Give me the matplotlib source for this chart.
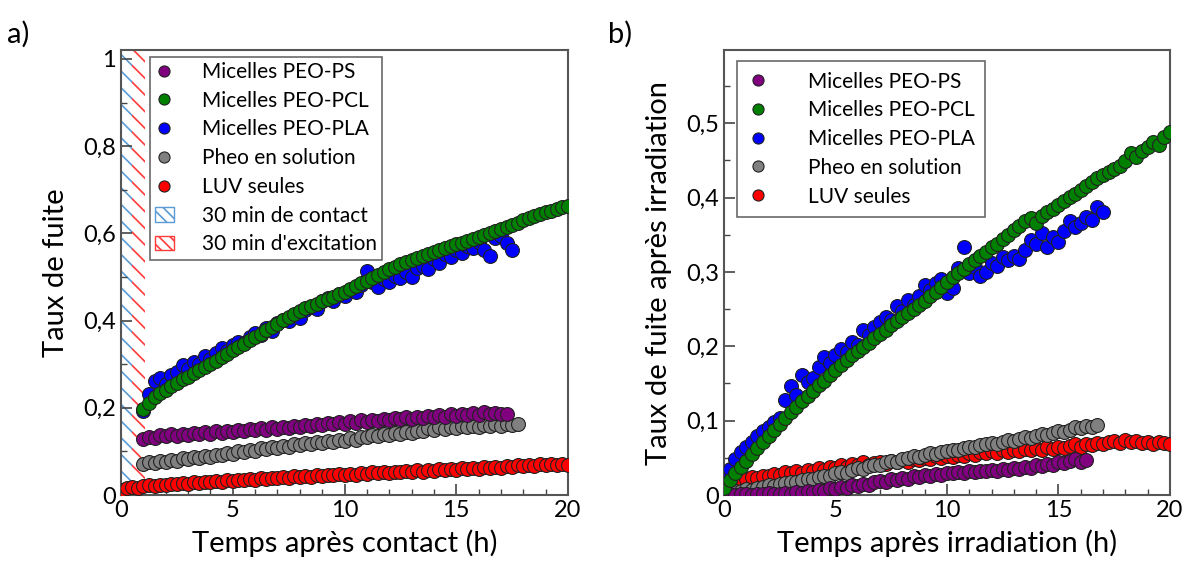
import numpy as np
import matplotlib
matplotlib.use('AGG')
import matplotlib.pyplot as plt
from matplotlib.ticker import MultipleLocator, FuncFormatter
from matplotlib.lines import Line2D
from matplotlib.patches import Patch

plt.rcParams['font.family'] = ['Lato', 'DejaVu Sans']
plt.rcParams['hatch.linewidth'] = 1.2

labels = ["Micelles PEO-PS", "Micelles PEO-PCL", "Micelles PEO-PLA",
          "Pheo en solution", "LUV seules"]
colors = ["#800080", "#008000", "#0000ff", "#808080", "#ff0000"]

# ---- panel a : temps apres contact (h), pas de 0.25 h ----
t_a_ps = np.arange(1.0, 17.26, 0.25)
a_ps = [0.128, 0.134, 0.131, 0.137, 0.135, 0.139, 0.136, 0.141, 0.138, 0.142,
        0.139, 0.144, 0.141, 0.146, 0.143, 0.148, 0.145, 0.150, 0.147, 0.151,
        0.149, 0.153, 0.150, 0.155, 0.152, 0.157, 0.154, 0.158, 0.156, 0.161,
        0.158, 0.163, 0.160, 0.165, 0.162, 0.167, 0.164, 0.169, 0.166, 0.171,
        0.168, 0.173, 0.170, 0.175, 0.172, 0.176, 0.174, 0.178, 0.175, 0.180,
        0.177, 0.182, 0.178, 0.184, 0.180, 0.185, 0.182, 0.187, 0.183, 0.188,
        0.184, 0.191, 0.186, 0.189, 0.185, 0.187]

t_a_pcl = np.arange(1.0, 20.01, 0.25)
a_pcl = [0.198, 0.212, 0.224, 0.233, 0.241, 0.250, 0.257, 0.265, 0.271, 0.279,
         0.286, 0.293, 0.301, 0.308, 0.316, 0.324, 0.332, 0.339, 0.347, 0.355,
         0.362, 0.370, 0.378, 0.386, 0.393, 0.401, 0.408, 0.416, 0.423, 0.428,
         0.433, 0.438, 0.444, 0.449, 0.454, 0.460, 0.466, 0.473, 0.479, 0.486,
         0.492, 0.498, 0.505, 0.511, 0.518, 0.524, 0.530, 0.534, 0.539, 0.544,
         0.548, 0.553, 0.557, 0.562, 0.566, 0.571, 0.575, 0.579, 0.583, 0.588,
         0.592, 0.597, 0.601, 0.606, 0.610, 0.615, 0.620, 0.625, 0.630, 0.635,
         0.640, 0.644, 0.648, 0.652, 0.657, 0.660, 0.663]

t_a_pla = np.arange(1.0, 17.51, 0.25)
a_pla = [0.192, 0.232, 0.262, 0.268, 0.255, 0.276, 0.283, 0.298, 0.288, 0.305,
         0.301, 0.318, 0.312, 0.325, 0.338, 0.331, 0.345, 0.352, 0.348, 0.362,
         0.371, 0.366, 0.382, 0.377, 0.395, 0.402, 0.398, 0.412, 0.406, 0.425,
         0.431, 0.427, 0.445, 0.452, 0.446, 0.461, 0.457, 0.470, 0.466, 0.481,
         0.513, 0.489, 0.476, 0.495, 0.488, 0.503, 0.497, 0.512, 0.501, 0.520,
         0.525, 0.518, 0.541, 0.533, 0.552, 0.545, 0.561, 0.556, 0.572, 0.566,
         0.581, 0.562, 0.549, 0.590, 0.595, 0.578, 0.563]

t_a_pheo = np.arange(1.0, 17.76, 0.25)
a_pheo = [0.072, 0.075, 0.073, 0.078, 0.076, 0.081, 0.079, 0.084, 0.082, 0.087,
          0.085, 0.090, 0.088, 0.093, 0.091, 0.097, 0.095, 0.100, 0.098, 0.104,
          0.102, 0.107, 0.105, 0.110, 0.108, 0.113, 0.111, 0.116, 0.114, 0.119,
          0.117, 0.122, 0.120, 0.125, 0.122, 0.127, 0.125, 0.130, 0.127, 0.132,
          0.133, 0.138, 0.136, 0.141, 0.138, 0.143, 0.140, 0.145, 0.142, 0.147,
          0.147, 0.153, 0.150, 0.155, 0.152, 0.157, 0.154, 0.158, 0.155, 0.159,
          0.156, 0.161, 0.158, 0.162, 0.159, 0.164, 0.160, 0.163]

t_a_luv = np.arange(0.0, 20.01, 0.25)
a_luv = [0.012, 0.016, 0.018, 0.017, 0.020, 0.022, 0.021, 0.024, 0.023, 0.026,
         0.025, 0.028, 0.026, 0.029, 0.028, 0.031, 0.029, 0.032, 0.031, 0.034,
         0.032, 0.035, 0.034, 0.037, 0.035, 0.038, 0.037, 0.040, 0.038, 0.041,
         0.040, 0.043, 0.041, 0.044, 0.042, 0.045, 0.044, 0.047, 0.045, 0.048,
         0.046, 0.049, 0.047, 0.050, 0.049, 0.052, 0.050, 0.053, 0.051, 0.054,
         0.052, 0.055, 0.053, 0.057, 0.054, 0.058, 0.056, 0.059, 0.057, 0.060,
         0.058, 0.061, 0.059, 0.063, 0.060, 0.064, 0.062, 0.065, 0.063, 0.067,
         0.064, 0.068, 0.066, 0.070, 0.067, 0.071, 0.068, 0.072, 0.069, 0.071,
         0.069]

# ---- panel b : temps apres irradiation (h) ----
t_b_ps = np.arange(0.0, 16.26, 0.25)
b_ps = [0.000, 0.001, 0.000, 0.002, 0.001, 0.000, 0.002, 0.001, 0.003, 0.002,
        0.001, 0.003, 0.002, 0.004, 0.003, 0.005, 0.004, 0.007, 0.006, 0.009,
        0.008, 0.011, 0.010, 0.013, 0.012, 0.015, 0.014, 0.017, 0.019, 0.018,
        0.021, 0.020, 0.023, 0.022, 0.025, 0.024, 0.027, 0.026, 0.028, 0.027,
        0.030, 0.029, 0.031, 0.030, 0.032, 0.031, 0.033, 0.032, 0.034, 0.033,
        0.035, 0.034, 0.036, 0.035, 0.038, 0.037, 0.040, 0.039, 0.042, 0.041,
        0.044, 0.043, 0.046, 0.048, 0.045, 0.047]

t_b_pcl = np.arange(0.0, 20.01, 0.25)
b_pcl = [0.010, 0.020, 0.030, 0.038, 0.046, 0.055, 0.063, 0.071, 0.080, 0.087,
         0.095, 0.103, 0.111, 0.118, 0.126, 0.133, 0.140, 0.148, 0.154, 0.161,
         0.168, 0.175, 0.181, 0.188, 0.193, 0.199, 0.205, 0.211, 0.216, 0.222,
         0.229, 0.234, 0.240, 0.245, 0.250, 0.256, 0.261, 0.267, 0.273, 0.280,
         0.287, 0.293, 0.299, 0.304, 0.310, 0.316, 0.322, 0.327, 0.333, 0.338,
         0.344, 0.350, 0.357, 0.362, 0.368, 0.372, 0.366, 0.375, 0.381, 0.385,
         0.390, 0.396, 0.401, 0.405, 0.410, 0.416, 0.421, 0.426, 0.430, 0.434,
         0.438, 0.443, 0.449, 0.460, 0.455, 0.462, 0.468, 0.475, 0.470, 0.481,
         0.488]

t_b_pla = np.arange(0.0, 17.01, 0.25)
b_pla = [0.022, 0.035, 0.048, 0.058, 0.064, 0.072, 0.079, 0.086, 0.092, 0.098,
         0.104, 0.128, 0.146, 0.134, 0.161, 0.152, 0.158, 0.172, 0.185, 0.178,
         0.188, 0.196, 0.192, 0.206, 0.202, 0.222, 0.215, 0.226, 0.232, 0.240,
         0.236, 0.254, 0.248, 0.262, 0.255, 0.268, 0.283, 0.276, 0.285, 0.291,
         0.271, 0.279, 0.305, 0.334, 0.298, 0.306, 0.295, 0.300, 0.312, 0.308,
         0.320, 0.316, 0.322, 0.318, 0.330, 0.343, 0.338, 0.352, 0.334, 0.347,
         0.340, 0.355, 0.369, 0.360, 0.366, 0.374, 0.370, 0.387, 0.381]

t_b_pheo = np.arange(0.0, 16.76, 0.25)
b_pheo = [0.002, 0.004, 0.006, 0.005, 0.008, 0.007, 0.010, 0.011, 0.013, 0.012,
          0.015, 0.016, 0.018, 0.017, 0.020, 0.022, 0.021, 0.024, 0.026, 0.025,
          0.029, 0.031, 0.030, 0.034, 0.036, 0.035, 0.039, 0.041, 0.040, 0.044,
          0.046, 0.045, 0.049, 0.050, 0.052, 0.051, 0.054, 0.056, 0.055, 0.058,
          0.059, 0.061, 0.060, 0.063, 0.065, 0.064, 0.067, 0.068, 0.070, 0.069,
          0.072, 0.074, 0.073, 0.076, 0.078, 0.077, 0.080, 0.082, 0.081, 0.084,
          0.086, 0.085, 0.088, 0.091, 0.090, 0.093, 0.092, 0.094]

t_b_luv = np.arange(0.0, 20.01, 0.25)
b_luv = [0.015, 0.018, 0.020, 0.022, 0.021, 0.024, 0.023, 0.026, 0.025, 0.028,
         0.027, 0.031, 0.029, 0.032, 0.030, 0.034, 0.033, 0.036, 0.034, 0.038,
         0.036, 0.040, 0.038, 0.042, 0.041, 0.044, 0.040, 0.043, 0.045, 0.042,
         0.046, 0.044, 0.047, 0.045, 0.049, 0.047, 0.050, 0.048, 0.052, 0.050,
         0.053, 0.051, 0.054, 0.052, 0.056, 0.054, 0.058, 0.056, 0.059, 0.057,
         0.060, 0.058, 0.061, 0.059, 0.062, 0.060, 0.063, 0.061, 0.064, 0.062,
         0.065, 0.063, 0.066, 0.068, 0.065, 0.069, 0.067, 0.070, 0.068, 0.071,
         0.073, 0.070, 0.074, 0.071, 0.073, 0.070, 0.072, 0.069, 0.071, 0.070,
         0.069]


def comma(v, pos):
    s = ('%.1f' % v).rstrip('0').rstrip('.')
    return s.replace('.', ',')


def style_axes(ax, ymaj, ymin):
    ax.xaxis.set_major_locator(MultipleLocator(5))
    ax.xaxis.set_minor_locator(MultipleLocator(1))
    ax.yaxis.set_major_locator(MultipleLocator(ymaj))
    ax.yaxis.set_minor_locator(MultipleLocator(ymin))
    ax.yaxis.set_major_formatter(FuncFormatter(comma))
    ax.tick_params(which='both', direction='in', top=False, right=False,
                   labelsize=17, color='#444444')
    ax.tick_params(which='major', length=8, width=1.2)
    ax.tick_params(which='minor', length=4, width=1)
    for sp in ax.spines.values():
        sp.set_color('#555555')
        sp.set_linewidth(1.5)


def scatter(ax, t, y, c):
    ax.scatter(t, y, s=100, c=c, edgecolors='#222222', linewidths=0.8, zorder=3)


fig = plt.figure(figsize=(11.87, 5.71), dpi=100)
ax1 = fig.add_axes([0.102, 0.133, 0.3765, 0.779])
ax2 = fig.add_axes([0.610, 0.133, 0.3755, 0.779])

# panel a
ax1.axvspan(0, 0.5, facecolor='none', edgecolor='#5b9bd5', hatch='\\\\', linewidth=0)
ax1.axvspan(0.5, 1.05, facecolor='none', edgecolor='#ff3b3b', hatch='\\\\', linewidth=0)
scatter(ax1, t_a_luv, a_luv, colors[4])
scatter(ax1, t_a_pheo, a_pheo, colors[3])
scatter(ax1, t_a_ps, a_ps, colors[0])
scatter(ax1, t_a_pla, a_pla, colors[2])
scatter(ax1, t_a_pcl, a_pcl, colors[1])
ax1.set_xlim(0, 20)
ax1.set_ylim(0, 1.02)
style_axes(ax1, 0.2, 0.1)
ax1.set_xlabel("Temps après contact (h)", fontsize=21, labelpad=6)
ax1.set_ylabel("Taux de fuite", fontsize=21, labelpad=10)

handles = [Line2D([], [], ls='none', marker='o', ms=8, mfc=c, mec='#222222', mew=0.8)
           for c in colors]
h_a = handles + [Patch(facecolor='white', edgecolor='#5b9bd5', hatch='\\\\\\'),
                 Patch(facecolor='white', edgecolor='#ff3b3b', hatch='\\\\\\')]
lab_a = labels + ["30 min de contact", "30 min d'excitation"]
leg = ax1.legend(h_a, lab_a, loc='upper left', bbox_to_anchor=(0.055, 0.995),
                 fontsize=15, frameon=True, fancybox=False, handlelength=0.9,
                 handletextpad=1.35, borderpad=0.25, labelspacing=0.42,
                 borderaxespad=0.2)
leg.get_frame().set_edgecolor('#444444')
leg.get_frame().set_linewidth(1.2)

# panel b
scatter(ax2, t_b_luv, b_luv, colors[4])
scatter(ax2, t_b_pheo, b_pheo, colors[3])
scatter(ax2, t_b_ps, b_ps, colors[0])
scatter(ax2, t_b_pla, b_pla, colors[2])
scatter(ax2, t_b_pcl, b_pcl, colors[1])
ax2.set_xlim(0, 20)
ax2.set_ylim(0, 0.598)
style_axes(ax2, 0.1, 0.05)
ax2.set_xlabel("Temps après irradiation (h)", fontsize=21, labelpad=6)
ax2.set_ylabel("Taux de fuite après irradiation", fontsize=21, labelpad=10)
leg2 = ax2.legend(handles, labels, loc='upper left', bbox_to_anchor=(0.02, 0.985),
                  fontsize=15, frameon=True, fancybox=False, handlelength=1.0,
                  handletextpad=1.9, borderpad=0.5, labelspacing=0.42,
                  borderaxespad=0.2)
leg2.get_frame().set_edgecolor('#444444')
leg2.get_frame().set_linewidth(1.2)

fig.text(0.006, 0.925, "a)", fontsize=21)
fig.text(0.512, 0.925, "b)", fontsize=21)

fig.savefig("out.png", dpi=100)
